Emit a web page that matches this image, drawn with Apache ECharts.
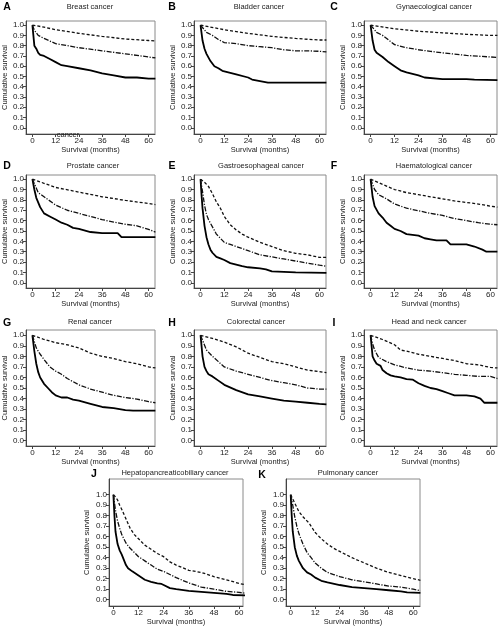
<!DOCTYPE html>
<html><head><meta charset="utf-8">
<script src="https://cdn.jsdelivr.net/npm/echarts@6/dist/echarts.min.js"></script>
<style>html,body{margin:0;padding:0;background:#fff}#c{width:499px;height:629px}</style>
</head><body><div id="c"></div>
<script>
// ---- tick labels / texts ----
const xTickValues = [0, 12, 24, 36, 48, 60];
const yTickValues = [0, 0.1, 0.2, 0.3, 0.4, 0.5, 0.6, 0.7, 0.8, 0.9, 1.0];
const panelLetters = ['A','B','C','D','E','F','G','H','I','J','K'];
const panelTitles = ['Breast cancer','Bladder cancer','Gynaecological cancer','Prostate cancer',
  'Gastroesophageal cancer','Haematological cancer','Renal cancer','Colorectal cancer',
  'Head and neck cancer','Hepatopancreaticobiliary cancer','Pulmonary cancer'];
const xAxisName = 'Survival (months)';
const yAxisName = 'Cumulative survival';

// ---- data: [month, survival] ----
const breastDashed = [[0,1],[6,0.98],[12,0.955],[24,0.92],[36,0.89],[48,0.865],[60,0.85],[63.5,0.845]];
const breastDashDot = [[0,1],[1,0.95],[3,0.9],[6,0.87],[12,0.82],[24,0.78],[36,0.75],[48,0.72],[60,0.69],[63.5,0.68]];
const breastSolid = [[0,1],[0.5,0.9],[1,0.8],[2,0.77],[3,0.73],[4,0.71],[6,0.7],[9,0.67],[12,0.64],[15,0.61],[18,0.6],[24,0.58],[30,0.56],[36,0.53],[42,0.51],[48,0.49],[54,0.49],[60,0.48],[63.5,0.48]];

const bladderDashed = [[0,1],[12,0.955],[24,0.92],[36,0.89],[48,0.87],[60,0.855],[63.5,0.855]];
const bladderDashDot = [[0,1],[3,0.93],[6,0.9],[9,0.86],[12,0.83],[18,0.82],[24,0.8],[30,0.79],[36,0.78],[42,0.76],[48,0.75],[54,0.75],[60,0.745],[63.5,0.74]];
const bladderSolid = [[0,1],[1,0.85],[2,0.77],[3,0.72],[5,0.65],[7,0.6],[9,0.58],[11,0.555],[12,0.54],[18,0.52],[24,0.49],[26,0.47],[30,0.455],[34,0.44],[63.5,0.44]];

const gynaeDashed = [[0,1],[12,0.965],[24,0.94],[36,0.925],[48,0.91],[60,0.9],[63.5,0.9]];
const gynaeDashDot = [[0,1],[3,0.93],[6,0.9],[12,0.81],[18,0.78],[24,0.76],[30,0.745],[36,0.73],[48,0.705],[60,0.69],[63.5,0.685]];
const gynaeSolid = [[0,1],[1,0.85],[2,0.76],[3,0.73],[6,0.69],[9,0.64],[12,0.6],[15,0.56],[18,0.54],[24,0.51],[27,0.49],[36,0.475],[48,0.475],[52,0.47],[63.5,0.465]];

const prostateDashed = [[0,1],[12,0.92],[24,0.875],[36,0.83],[48,0.795],[60,0.765],[63.5,0.755]];
const prostateDashDot = [[0,1],[3,0.87],[6,0.83],[12,0.75],[18,0.7],[24,0.67],[30,0.64],[36,0.61],[42,0.585],[48,0.565],[54,0.55],[60,0.515],[63.5,0.49]];
const prostateSolid = [[0,1],[1,0.9],[2,0.82],[4,0.73],[6,0.67],[9,0.64],[12,0.61],[15,0.58],[18,0.56],[21,0.53],[24,0.52],[30,0.49],[36,0.48],[44,0.48],[46,0.44],[63.5,0.44]];

const gastroDashed = [[0,1],[2,0.97],[4,0.93],[6,0.86],[8,0.78],[10,0.72],[12,0.64],[15,0.56],[18,0.51],[21,0.47],[24,0.44],[30,0.39],[36,0.35],[42,0.31],[48,0.285],[54,0.27],[60,0.245],[63.5,0.245]];
const gastroDashDot = [[0,1],[1,0.88],[2,0.75],[3,0.66],[4,0.61],[6,0.54],[8,0.47],[10,0.43],[12,0.39],[15,0.37],[18,0.35],[24,0.31],[30,0.27],[36,0.25],[42,0.23],[48,0.21],[54,0.19],[60,0.17],[63.5,0.16]];
const gastroSolid = [[0,1],[0.5,0.85],[1,0.72],[2,0.55],[3,0.44],[4,0.37],[5,0.32],[6,0.29],[8,0.25],[10,0.235],[12,0.22],[15,0.19],[18,0.175],[21,0.16],[24,0.15],[30,0.14],[33,0.13],[36,0.11],[42,0.105],[48,0.1],[63.5,0.095]];

const haemDashed = [[0,1],[6,0.95],[12,0.9],[18,0.87],[24,0.85],[30,0.83],[36,0.81],[42,0.79],[48,0.775],[54,0.76],[60,0.74],[63.5,0.73]];
const haemDashDot = [[0,1],[2,0.9],[4,0.85],[8,0.81],[12,0.76],[18,0.72],[24,0.695],[30,0.67],[36,0.65],[42,0.62],[48,0.6],[54,0.58],[60,0.565],[63.5,0.56]];
const haemSolid = [[0,1],[1,0.83],[2,0.74],[4,0.67],[6,0.63],[8,0.58],[10,0.55],[12,0.52],[15,0.5],[18,0.47],[24,0.455],[27,0.43],[30,0.42],[33,0.41],[38,0.41],[40,0.37],[48,0.37],[52,0.35],[56,0.32],[58,0.3],[63.5,0.3]];

const renalDashed = [[0,1],[6,0.96],[12,0.93],[18,0.91],[24,0.88],[30,0.83],[36,0.8],[42,0.78],[48,0.75],[54,0.73],[60,0.7],[63.5,0.69]];
const renalDashDot = [[0,1],[2,0.88],[4,0.82],[6,0.77],[9,0.7],[12,0.66],[15,0.63],[18,0.59],[24,0.53],[30,0.49],[36,0.46],[42,0.43],[48,0.41],[54,0.395],[60,0.37],[63.5,0.36]];
const renalSolid = [[0,1],[1,0.85],[2,0.73],[3,0.65],[4,0.6],[6,0.54],[8,0.5],[10,0.46],[12,0.43],[15,0.41],[18,0.41],[21,0.39],[24,0.38],[30,0.35],[36,0.32],[42,0.31],[48,0.29],[52,0.285],[63.5,0.285]];

const colorectalDashed = [[0,1],[6,0.97],[12,0.935],[18,0.89],[24,0.83],[30,0.79],[36,0.75],[42,0.73],[48,0.7],[54,0.67],[60,0.655],[63.5,0.645]];
const colorectalDashDot = [[0,1],[3,0.86],[6,0.8],[9,0.75],[12,0.7],[18,0.66],[24,0.63],[30,0.6],[36,0.57],[42,0.55],[48,0.53],[54,0.5],[60,0.49],[63.5,0.49]];
const colorectalSolid = [[0,1],[1,0.8],[2,0.7],[3,0.66],[4,0.63],[6,0.61],[9,0.57],[12,0.53],[18,0.48],[24,0.44],[30,0.42],[36,0.4],[42,0.38],[48,0.37],[54,0.36],[60,0.35],[63.5,0.345]];

const headNeckDashed = [[0,1],[6,0.96],[12,0.91],[15,0.86],[18,0.85],[24,0.82],[30,0.8],[36,0.78],[42,0.76],[48,0.73],[54,0.72],[60,0.695],[63.5,0.69]];
const headNeckDashDot = [[0,1],[1,0.92],[2,0.86],[4,0.79],[8,0.75],[12,0.72],[18,0.69],[24,0.67],[30,0.66],[36,0.645],[42,0.63],[48,0.62],[54,0.61],[60,0.61],[63.5,0.59]];
const headNeckSolid = [[0,1],[1,0.8],[2,0.76],[3,0.73],[5,0.71],[6,0.67],[8,0.64],[10,0.62],[12,0.61],[15,0.6],[18,0.585],[21,0.58],[24,0.545],[27,0.52],[30,0.5],[33,0.49],[36,0.47],[39,0.45],[42,0.43],[48,0.43],[52,0.42],[55,0.4],[57,0.36],[63.5,0.36]];

const hpbDashed = [[0,1],[1,0.98],[2,0.95],[3,0.9],[4,0.86],[6,0.77],[8,0.68],[10,0.62],[12,0.58],[15,0.52],[18,0.48],[21,0.44],[24,0.41],[27,0.36],[30,0.33],[36,0.28],[42,0.26],[48,0.22],[54,0.19],[60,0.155],[63.5,0.14]];
const hpbDashDot = [[0,1],[1,0.85],[2,0.75],[3,0.68],[4,0.62],[6,0.54],[8,0.49],[10,0.45],[12,0.41],[15,0.37],[18,0.33],[21,0.29],[24,0.27],[30,0.21],[36,0.16],[42,0.12],[48,0.1],[54,0.08],[60,0.07],[63.5,0.06]];
const hpbSolid = [[0,1],[0.5,0.8],[1,0.65],[2,0.53],[3,0.47],[4,0.43],[5,0.38],[6,0.33],[7,0.3],[9,0.27],[12,0.23],[15,0.19],[18,0.17],[21,0.155],[23,0.15],[24,0.14],[27,0.11],[30,0.1],[36,0.085],[42,0.075],[48,0.065],[54,0.055],[57,0.045],[63.5,0.04]];

const pulmDashed = [[0,1],[1,0.96],[2,0.92],[3,0.88],[4,0.84],[6,0.79],[9,0.73],[12,0.64],[15,0.58],[18,0.53],[21,0.49],[24,0.46],[30,0.4],[36,0.35],[42,0.3],[48,0.26],[54,0.23],[60,0.2],[63.5,0.185]];
const pulmDashDot = [[0,1],[1,0.9],[2,0.79],[3,0.7],[4,0.63],[6,0.53],[8,0.45],[10,0.4],[12,0.35],[15,0.3],[18,0.26],[21,0.24],[24,0.22],[30,0.19],[36,0.17],[42,0.15],[48,0.13],[54,0.12],[60,0.1],[63.5,0.085]];
const pulmSolid = [[0,1],[0.5,0.8],[1,0.65],[2,0.5],[3,0.42],[4,0.37],[6,0.3],[8,0.26],[10,0.24],[12,0.21],[15,0.18],[18,0.165],[24,0.14],[30,0.12],[36,0.11],[42,0.1],[48,0.09],[54,0.08],[57,0.07],[63.5,0.065]];

const panelSeries = [
  [breastDashed, breastDashDot, breastSolid],
  [bladderDashed, bladderDashDot, bladderSolid],
  [gynaeDashed, gynaeDashDot, gynaeSolid],
  [prostateDashed, prostateDashDot, prostateSolid],
  [gastroDashed, gastroDashDot, gastroSolid],
  [haemDashed, haemDashDot, haemSolid],
  [renalDashed, renalDashDot, renalSolid],
  [colorectalDashed, colorectalDashDot, colorectalSolid],
  [headNeckDashed, headNeckDashDot, headNeckSolid],
  [hpbDashed, hpbDashDot, hpbSolid],
  [pulmDashed, pulmDashDot, pulmSolid]
];

// ---- layout (pixels) ----
const cols = [[26,155],[194,326],[364,497]];
const rows = [
  {t:21, b:134, yMin:-0.06, yMax:1.04, letterY:7, titleY:7},
  {t:175, b:288, yMin:-0.05, yMax:1.04, letterY:166, titleY:165.5},
  {t:330, b:446, yMin:-0.05, yMax:1.05, letterY:323, titleY:322}
];
const layout = [];
const letterXs = [7,172,334];
const titleXs = [[90,259,434],[93,261,434],[90,256,429]];
for (let r = 0; r < 3; r++) for (let c = 0; c < 3; c++) {
  layout.push({l:cols[c][0], r:cols[c][1], t:rows[r].t, b:rows[r].b, xMin:-3.3, xMax:63.3,
    yMin:rows[r].yMin, yMax:rows[r].yMax, lx:letterXs[c], ly:rows[r].letterY,
    tx:titleXs[r][c], ty:rows[r].titleY, nameGap:16});
}
layout.push({l:109, r:243, t:479, b:606, xMin:-2.1, xMax:61.9, yMin:-0.06, yMax:1.15, lx:94, ly:474, tx:175, ty:473, nameGap:18});
layout.push({l:286, r:420, t:479, b:606, xMin:-2.3, xMax:63.3, yMin:-0.06, yMax:1.15, lx:262, ly:475, tx:348, ty:473, nameGap:18});

const FONT = 'Liberation Sans, Arial, Helvetica, sans-serif';
const lineStyles = [
  {color:'#111', width:1.3, type:[3,2]},
  {color:'#111', width:1.3, type:[5,1.5,1.2,1.5]},
  {color:'#000', width:1.8, type:'solid'}
];

const grid = [], xAxis = [], yAxis = [], series = [], graphic = [];
layout.forEach((p, i) => {
  grid.push({left:p.l, top:p.t, width:p.r - p.l, height:p.b - p.t, show:true,
    borderColor:'#8a8a8a', borderWidth:1, containLabel:false});
  xAxis.push({type:'value', gridIndex:i, min:p.xMin, max:p.xMax,
    name:xAxisName, nameLocation:'middle', nameGap:11,
    nameTextStyle:{fontFamily:FONT, fontSize:7.5, color:'#222'},
    axisLine:{show:true, onZero:false, lineStyle:{color:'#444', width:1}},
    axisTick:{show:true, length:3, customValues:xTickValues, lineStyle:{color:'#444'}},
    axisLabel:{show:true, customValues:xTickValues, margin:3, fontFamily:FONT, fontSize:8, color:'#222'},
    splitLine:{show:false}});
  yAxis.push({type:'value', gridIndex:i, min:p.yMin, max:p.yMax,
    name:yAxisName, nameLocation:'middle', nameGap:p.nameGap, nameRotate:90,
    nameTextStyle:{fontFamily:FONT, fontSize:7.5, color:'#222'},
    axisLine:{show:true, onZero:false, lineStyle:{color:'#444', width:1}},
    axisTick:{show:true, length:3, customValues:yTickValues, lineStyle:{color:'#444'}},
    axisLabel:{show:true, customValues:yTickValues, margin:2, fontFamily:FONT, fontSize:8, color:'#222',
      formatter:v => v.toFixed(1)},
    splitLine:{show:false}});
  panelSeries[i].forEach((d, k) => {
    series.push({type:'line', xAxisIndex:i, yAxisIndex:i, data:d, symbol:'none',
      showSymbol:false, clip:true, lineStyle:lineStyles[k], silent:true, z:3 - k});
  });
  graphic.push({type:'text', x:p.lx, y:p.ly, style:{text:panelLetters[i], font:'bold 10.5px ' + FONT,
    fill:'#000', align:'center', verticalAlign:'middle'}});
  graphic.push({type:'text', x:p.tx, y:p.ty, style:{text:panelTitles[i], font:'7.5px ' + FONT,
    fill:'#222', align:'center', verticalAlign:'middle'}});
});
// stray label in panel A of the original figure
graphic.push({type:'text', x:68, y:135, style:{text:'cancer', font:'7.5px ' + FONT, fill:'#222',
  align:'center', verticalAlign:'middle'}, z:10});

const chart = echarts.init(document.getElementById('c'), null, {renderer:'canvas'});
chart.setOption({animation:false, backgroundColor:'#fff', grid, xAxis, yAxis, series, graphic});
</script></body></html>
